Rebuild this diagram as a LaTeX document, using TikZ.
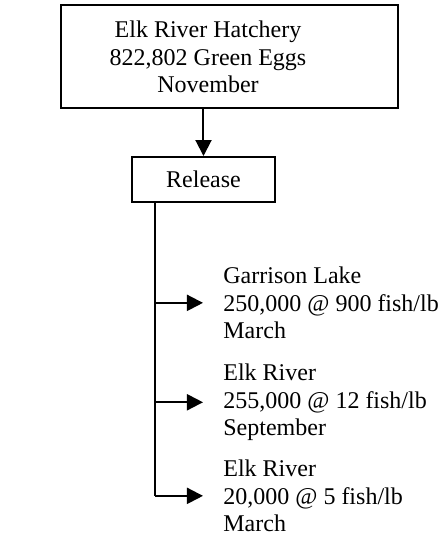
\documentclass[tikz,border=0pt]{standalone}
\usepackage{fontspec}
\setmainfont{Liberation Serif}
\usetikzlibrary{arrows.meta}
\begin{document}
\begin{tikzpicture}[x=0.5pt,y=-0.5pt,
  txt/.style={font=\fontsize{12pt}{13.75pt}\selectfont, inner sep=0pt},
  boxnode/.style={draw, line width=1pt, inner sep=0pt},
  conn/.style={line width=1pt},
  arr/.style={line width=1pt, -{Triangle[length=8pt,width=8pt]}},
  leaf/.style={txt, align=left, anchor=north west, inner xsep=10pt, inner ysep=0pt}
]
\useasboundingbox (0,0) rectangle (443,538);
% top box
\node[boxnode, minimum width=168.5pt, minimum height=51.5pt] (hatch) at (229.5,56.5) {};
\node[txt, align=center, anchor=north] (hatchtext) at (208,20.5) {Elk River Hatchery\\822,802 Green Eggs\\November};
% release box
\node[boxnode, txt, minimum width=71.5pt, minimum height=22.5pt] (rel) at (203.5,179.5) {Release};
\draw[arr] (rel.north |- hatch.south) -- (rel.north);
% leaves
\node[leaf] (t1) at (203,266.5) {Garrison Lake\\250,000 @ 900 fish/lb\\March};
\node[leaf] (t2) at (203,363.5) {Elk River\\255,000 @ 12 fish/lb\\September};
\node[leaf] (t3) at (203,459.5) {Elk River\\20,000 @ 5 fish/lb\\March};
\coordinate (spine) at (155,202);
\coordinate (spine) at (spine |- rel.south);
\draw[conn] (spine) -- (spine |- t3.west);
\draw[arr] (spine |- t1.west) -- (t1.west);
\draw[arr] (spine |- t2.west) -- (t2.west);
\draw[arr] (spine |- t3.west) -- (t3.west);
\end{tikzpicture}
\end{document}
